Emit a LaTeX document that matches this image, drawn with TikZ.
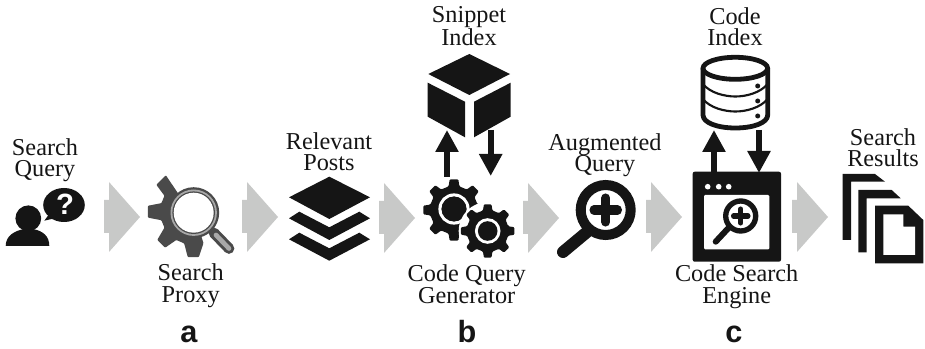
\documentclass[tikz,border=0pt]{standalone}
\usepackage{fontspec}
\setmainfont{Liberation Serif}
\newfontfamily\panelsans{Liberation Sans}
\usetikzlibrary{arrows.meta}
\definecolor{ink}{HTML}{151515}
\definecolor{gearink}{HTML}{4A4A4A}
\definecolor{ringgrey}{HTML}{A8A8A8}
\definecolor{blockgrey}{HTML}{C8C9C8}
\tikzset{
  caption/.style={font=\fontsize{18.2}{16}\selectfont,align=center,inner sep=0pt,anchor=base,text=ink},
  panel/.style={font=\panelsans\bfseries\fontsize{23}{23}\selectfont,inner sep=0pt,anchor=base,text=ink},
  flowarrow/.style={draw=ink,line width=4.8pt,-{Triangle[length=16.5pt,width=16.5pt]}},
  blockarrow/.pic={\fill[blockgrey] (0,0)--(5,0)--(5,-18)--(36,17)--(5,52)--(5,33)--(0,33)--cycle;},
  cogwheel/.pic={\fill[ink,rounded corners=0.8pt] (-13:0.78)
    \foreach \a in {0,45,...,315} {-- (\a-13:0.78) -- (\a-8:1) -- (\a+8:1) -- (\a+13:0.78)} -- cycle;}
}
\begin{document}
\begin{tikzpicture}[x=0.75pt,y=-0.75pt]
\useasboundingbox (0,0) rectangle (925,349);
% block arrows
\pic at (104,200) {blockarrow};
\pic at (242,200) {blockarrow};
\pic at (379,201) {blockarrow};
\pic at (523,201) {blockarrow};
\pic at (646,200) {blockarrow};
\pic at (792,200) {blockarrow};
% person with bubble
\fill[ink] (28.3,218.3) circle (12.9);
\fill[ink] (5.7,246) .. controls (5.7,236) and (14,231) .. (24,229) -- (33,229) .. controls (43,231) and (49.3,236) .. (49.3,246) -- cycle;
\fill[ink] (64,205) ellipse (20.8 and 17);
\fill[ink] (50,213) -- (44.3,220.7) -- (56,218) -- cycle;
\node[font=\panelsans\bfseries\fontsize{22}{22}\selectfont,text=white,inner sep=0pt] (qmark) at (65,204.5) {?};
% search proxy gear
\begin{scope}[shift={(193.3,211.7)}]
\fill[gearink,rounded corners=0.6pt] (72:33) -- (83:45.7) -- (97:45.7) -- (106:33)
  -- (121:33) -- (128:45.7) -- (142:45.7) -- (151:33)
  -- (165:33) -- (172.5:45.7) -- (187.5:45.7) -- (195:33)
  -- (209:33) -- (216:45.7) -- (233:45.7) -- (-15,-18) -- (0,0) -- cycle;
\end{scope}
\draw[gearink,line width=8pt,line cap=round] (214,233) -- (229,248.5);
\draw[ringgrey,line width=3.5pt,line cap=round] (216,235) -- (229,248.5);
\fill[gearink] (193.7,212.7) circle (25.5);
\fill[ringgrey] (193.7,212.7) circle (23.2);
\fill[gearink] (193.7,212.7) circle (21.3);
\fill[white] (193.7,212.7) circle (20);
% layers
\fill[ink] (329.3,176.7) -- (370,197.3) -- (329.3,219) -- (289,197.3) -- cycle;
\fill[ink] (289,218.3) -- (299.3,211.7) -- (329.3,227.3) -- (359.3,211.7) -- (370,218.3) -- (329.3,240) -- cycle;
\fill[ink] (289,239.3) -- (299.3,232.7) -- (329.3,248.3) -- (359.3,232.7) -- (370,239.3) -- (329.3,260.7) -- cycle;
% cube
\fill[ink] (469.3,54) -- (510,74) -- (469.3,95) -- (428.3,74) -- cycle;
\fill[ink] (427.7,82.7) -- (465,101.7) -- (465,137.3) -- (427.7,116.7) -- cycle;
\fill[ink] (474,101.7) -- (510.7,82.7) -- (510.7,116.7) -- (474,137.3) -- cycle;
% gears
\pic[scale=31] at (454,210) {cogwheel};
\draw[white,line width=2.4pt] (454,209) circle (14);
\fill[ink] (454,209) circle (12.5);
\fill[white] (487.7,231) circle (29);
\pic[scale=27] at (487.7,231) {cogwheel};
\fill[white] (487.7,231) circle (12.8);
\fill[ink] (487.7,231) circle (9.8);
% magnifier plus
\draw[ink,line width=7.5pt] (605.7,210) circle (25);
\draw[ink,line width=9pt,line cap=round] (587,232) -- (563,252);
\draw[ink,line width=6.8pt,line cap=round] (594,210) -- (617.5,210);
\draw[ink,line width=6.8pt,line cap=round] (605.7,198) -- (605.7,222);
% database
\draw[ink,line width=3.6pt,fill=white,line join=round] (703,68.3) -- (703,115)
  .. controls (703,123) and (718,128) .. (735.3,128) .. controls (753,128) and (767.7,123) .. (767.7,115) -- (767.7,68.3);
\draw[ink,line width=3.6pt] (735.3,68.3) ellipse (32.3 and 11);
\draw[ink,line width=1.6pt] (703,84) .. controls (710,93) and (725,96.5) .. (735.3,96.5) .. controls (746,96.5) and (760,93) .. (767.7,84);
\draw[ink,line width=1.6pt] (703,99) .. controls (710,108) and (725,111.5) .. (735.3,111.5) .. controls (746,111.5) and (760,108) .. (767.7,99);
\fill[ink] (757.7,86) circle (2.5) (757.7,101) circle (2.5) (757.7,116) circle (2.5);
% window
\fill[ink,rounded corners=1.5pt] (692.7,171.7) rectangle (781,261.7);
\fill[white,rounded corners=0.8pt] (704,195) rectangle (769.3,249.3);
\fill[white] (707.7,186.7) circle (2.8) (718.7,186.7) circle (2.8) (728.7,186.7) circle (2.8);
\draw[ink,line width=4pt] (740.7,216) circle (15);
\draw[ink,line width=4.5pt,line cap=round] (728.5,228) -- (715.7,241.7);
\draw[ink,line width=3.8pt,line cap=round] (733.5,216) -- (748,216);
\draw[ink,line width=3.8pt,line cap=round] (740.7,209) -- (740.7,223);
% documents
\fill[ink] (842.7,174) -- (875,174) -- (885,181.7) -- (851,181.7) -- (851,240) -- (842.7,240) -- cycle;
\fill[ink] (858.3,190) -- (891.7,190) -- (900.7,198.3) -- (866.7,198.3) -- (866.7,252.3) -- (858.3,252.3) -- cycle;
\fill[ink] (875,205.7) -- (908.3,205.7) -- (923.3,220) -- (923.3,263.3) -- (875,263.3) -- cycle;
\fill[white] (883.3,214.3) -- (903.3,214.3) -- (903.3,226.7) -- (915,226.7) -- (915,255) -- (883.3,255) -- cycle;
% connectors
\coordinate (gearOut) at (447,177);
\coordinate (cubeIn) at (447,130);
\coordinate (cubeOut) at (490.7,130);
\coordinate (gearIn) at (490.7,176);
\coordinate (engineOut) at (714,172);
\coordinate (dbIn) at (714,130);
\coordinate (dbOut) at (759,130);
\coordinate (engineIn) at (759,173);
\draw[flowarrow] (gearOut) -- (cubeIn);
\draw[flowarrow] (cubeOut) -- (gearIn);
\draw[flowarrow] (engineOut) -- (dbIn);
\draw[flowarrow] (dbOut) -- (engineIn);
% captions
\node[caption] (searchquery) at (45,176.5) {Search\\Query};
\node[caption] (searchproxy) at (190.7,302) {Search\\Proxy};
\node[caption] (posts) at (329,171) {Relevant\\Posts};
\node[caption] (snippet) at (469,46) {Snippet\\Index};
\node[caption] (generator) at (466.7,303) {Code Query\\Generator};
\node[caption] (augmented) at (605,172) {Augmented\\Query};
\node[caption] (codeindex) at (735,46) {Code\\Index};
\node[caption] (engine) at (736.7,303) {Code Search\\Engine};
\node[caption] (results) at (883,167) {Search\\Results};
\node[panel] (pa) at (189,342) {a};
\node[panel] (pb) at (467,342) {b};
\node[panel] (pc) at (734,342) {c};
\end{tikzpicture}
\end{document}
